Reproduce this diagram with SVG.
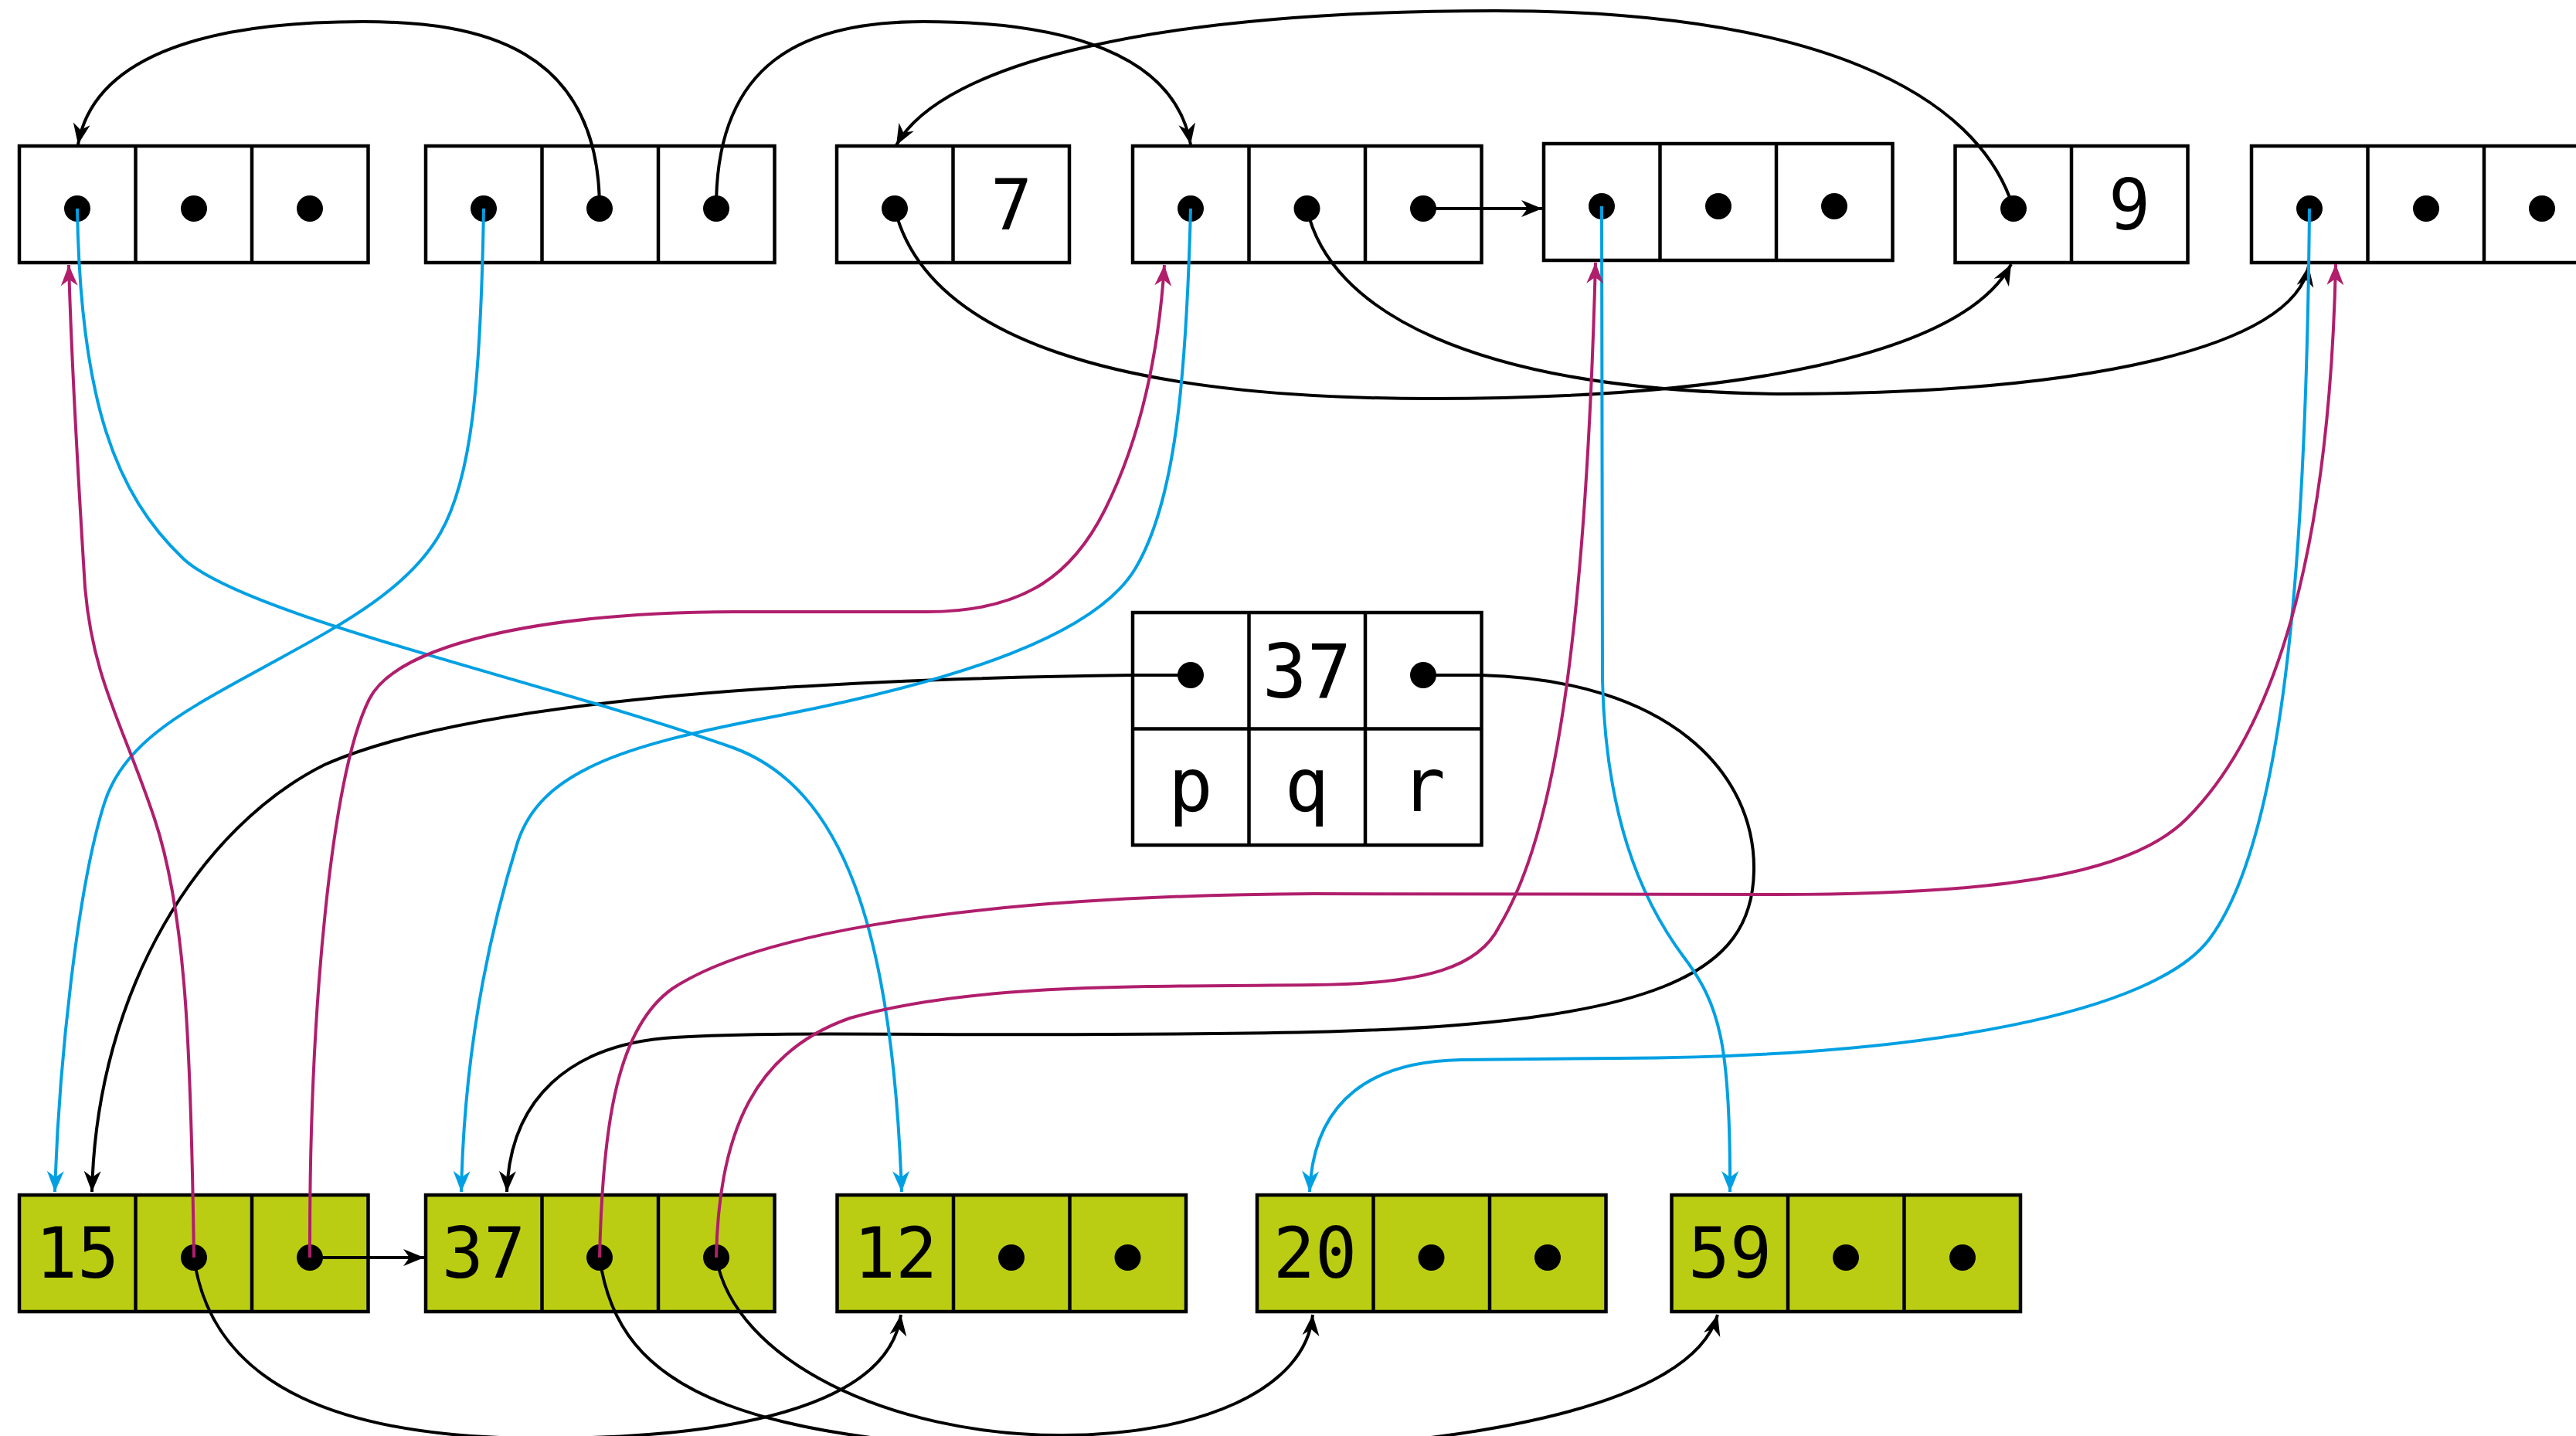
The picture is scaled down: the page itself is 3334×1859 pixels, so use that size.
<svg xmlns="http://www.w3.org/2000/svg" width="3334" height="1859" viewBox="0 0 3334 1859">
  <style>
    .box{fill:#fff;stroke:#000;stroke-width:4.5}
    .leaf{fill:#bacd12;stroke:#000;stroke-width:4.5}
    .sep{stroke:#000;stroke-width:4.5}
    .dot{fill:#000}
    .lbl{font-family:"DejaVu Sans Mono","Liberation Mono",monospace;font-size:90px;text-anchor:middle;fill:#000}
    .big{font-size:96px}
    .e{fill:none;stroke-width:4}
    .k{stroke:#000}
    .b{stroke:#00a0e3}
    .m{stroke:#b01e6c}
  </style>
  <defs>
    <marker id="ak" viewBox="-28 -12 30 24" refX="0" refY="0" markerWidth="30" markerHeight="24" markerUnits="userSpaceOnUse" orient="auto">
      <path d="M0,0 L-27,-11 L-19,0 L-27,11 Z" fill="#000"/>
    </marker>
    <marker id="ab" viewBox="-28 -12 30 24" refX="0" refY="0" markerWidth="30" markerHeight="24" markerUnits="userSpaceOnUse" orient="auto">
      <path d="M0,0 L-27,-11 L-19,0 L-27,11 Z" fill="#00a0e3"/>
    </marker>
    <marker id="am" viewBox="-28 -12 30 24" refX="0" refY="0" markerWidth="30" markerHeight="24" markerUnits="userSpaceOnUse" orient="auto">
      <path d="M0,0 L-27,-11 L-19,0 L-27,11 Z" fill="#b01e6c"/>
    </marker>
  </defs>
  <rect width="3334" height="1859" fill="#fff"/>

  <!-- top row of pointer records -->
  <g id="n1">
    <rect class="box" x="25" y="189" width="451.5" height="151"/>
    <line class="sep" x1="175.5" y1="189" x2="175.5" y2="340"/>
    <line class="sep" x1="326" y1="189" x2="326" y2="340"/>
    <circle class="dot" cx="100" cy="270" r="17"/>
    <circle class="dot" cx="251" cy="270" r="17"/>
    <circle class="dot" cx="401" cy="270" r="17"/>
  </g>
  <g id="n2">
    <rect class="box" x="551" y="189" width="451.5" height="151"/>
    <line class="sep" x1="701.5" y1="189" x2="701.5" y2="340"/>
    <line class="sep" x1="852" y1="189" x2="852" y2="340"/>
    <circle class="dot" cx="626" cy="270" r="17"/>
    <circle class="dot" cx="776" cy="270" r="17"/>
    <circle class="dot" cx="927" cy="270" r="17"/>
  </g>
  <g id="n3">
    <rect class="box" x="1083" y="189" width="301" height="151"/>
    <line class="sep" x1="1233.5" y1="189" x2="1233.5" y2="340"/>
    <circle class="dot" cx="1158" cy="270" r="17"/>
    <text class="lbl" x="1309" y="297">7</text>
  </g>
  <g id="n4">
    <rect class="box" x="1466" y="189" width="451.5" height="151"/>
    <line class="sep" x1="1616.5" y1="189" x2="1616.5" y2="340"/>
    <line class="sep" x1="1767" y1="189" x2="1767" y2="340"/>
    <circle class="dot" cx="1541" cy="270" r="17"/>
    <circle class="dot" cx="1691.5" cy="270" r="17"/>
    <circle class="dot" cx="1842" cy="270" r="17"/>
  </g>
  <g id="n5">
    <rect class="box" x="1998" y="186" width="451.5" height="151"/>
    <line class="sep" x1="2148.5" y1="186" x2="2148.5" y2="337"/>
    <line class="sep" x1="2299" y1="186" x2="2299" y2="337"/>
    <circle class="dot" cx="2073" cy="267" r="17"/>
    <circle class="dot" cx="2224" cy="267" r="17"/>
    <circle class="dot" cx="2374" cy="267" r="17"/>
  </g>
  <g id="n6">
    <rect class="box" x="2530.5" y="189" width="301" height="151"/>
    <line class="sep" x1="2681" y1="189" x2="2681" y2="340"/>
    <circle class="dot" cx="2606" cy="270" r="17"/>
    <text class="lbl" x="2756" y="297">9</text>
  </g>
  <g id="n7">
    <rect class="box" x="2914" y="189" width="451.5" height="151"/>
    <line class="sep" x1="3064.5" y1="189" x2="3064.5" y2="340"/>
    <line class="sep" x1="3215" y1="189" x2="3215" y2="340"/>
    <circle class="dot" cx="2989" cy="270" r="17"/>
    <circle class="dot" cx="3140" cy="270" r="17"/>
    <circle class="dot" cx="3290" cy="270" r="17"/>
  </g>

  <!-- labelled record p / q / r -->
  <g id="pqr">
    <rect class="box" x="1466" y="793" width="451.5" height="301"/>
    <line class="sep" x1="1616.5" y1="793" x2="1616.5" y2="1094"/>
    <line class="sep" x1="1767" y1="793" x2="1767" y2="1094"/>
    <line class="sep" x1="1466" y1="943.5" x2="1917.5" y2="943.5"/>
    <circle class="dot" cx="1541" cy="874" r="17"/>
    <circle class="dot" cx="1842" cy="874" r="17"/>
    <text class="lbl big" x="1691.5" y="903">37</text>
    <text class="lbl big" x="1541" y="1050">p</text>
    <text class="lbl big" x="1691.5" y="1050">q</text>
    <text class="lbl big" x="1842" y="1050">r</text>
  </g>

  <!-- bottom row of keyed records -->
  <g id="k15">
    <rect class="leaf" x="25" y="1547" width="451.5" height="151"/>
    <line class="sep" x1="175.5" y1="1547" x2="175.5" y2="1698"/>
    <line class="sep" x1="326" y1="1547" x2="326" y2="1698"/>
    <text class="lbl" x="100" y="1654">15</text>
    <circle class="dot" cx="251" cy="1628" r="17"/>
    <circle class="dot" cx="401" cy="1628" r="17"/>
  </g>
  <g id="k37">
    <rect class="leaf" x="551" y="1547" width="451.5" height="151"/>
    <line class="sep" x1="701.5" y1="1547" x2="701.5" y2="1698"/>
    <line class="sep" x1="852" y1="1547" x2="852" y2="1698"/>
    <text class="lbl" x="626" y="1654">37</text>
    <circle class="dot" cx="776" cy="1628" r="17"/>
    <circle class="dot" cx="927" cy="1628" r="17"/>
  </g>
  <g id="k12">
    <rect class="leaf" x="1083.5" y="1547" width="451.5" height="151"/>
    <line class="sep" x1="1234" y1="1547" x2="1234" y2="1698"/>
    <line class="sep" x1="1384.5" y1="1547" x2="1384.5" y2="1698"/>
    <text class="lbl" x="1159" y="1654">12</text>
    <circle class="dot" cx="1309" cy="1628" r="17"/>
    <circle class="dot" cx="1459.5" cy="1628" r="17"/>
  </g>
  <g id="k20">
    <rect class="leaf" x="1627" y="1547" width="451.5" height="151"/>
    <line class="sep" x1="1777.5" y1="1547" x2="1777.5" y2="1698"/>
    <line class="sep" x1="1928" y1="1547" x2="1928" y2="1698"/>
    <text class="lbl" x="1702" y="1654">20</text>
    <circle class="dot" cx="1852.5" cy="1628" r="17"/>
    <circle class="dot" cx="2003" cy="1628" r="17"/>
  </g>
  <g id="k59">
    <rect class="leaf" x="2163.5" y="1547" width="451.5" height="151"/>
    <line class="sep" x1="2314" y1="1547" x2="2314" y2="1698"/>
    <line class="sep" x1="2464.5" y1="1547" x2="2464.5" y2="1698"/>
    <text class="lbl" x="2239" y="1654">59</text>
    <circle class="dot" cx="2389" cy="1628" r="17"/>
    <circle class="dot" cx="2540" cy="1628" r="17"/>
  </g>

  <!-- connectors -->
  <g id="edges">
    <!-- black pointers -->
    <path class="e k" marker-end="url(#ak)" d="M776,270 C776,60 620,28 470,28 C250,28 120,80 101,187"/>
    <path class="e k" marker-end="url(#ak)" d="M927,270 C926,80 1040,28 1195,28 C1380,28 1520,70 1541,187"/>
    <path class="e k" marker-end="url(#ak)" d="M2606,270 C2560,120 2350,14 1935,14 C1500,14 1220,80 1160,188"/>
    <path class="e k" marker-end="url(#ak)" d="M1158,270 C1200,440 1450,516 1851,516 C2250,516 2540,460 2603,342"/>
    <path class="e k" marker-end="url(#ak)" d="M1691.5,270 C1720,400 1900,505 2300,510 C2700,510 2970,450 2988,344"/>
    <path class="e k" marker-end="url(#ak)" d="M1842,270 L1996,270"/>
    <path class="e k" marker-end="url(#ak)" d="M1541,874 L1467,874 C1000,880 600,910 420,990 C260,1070 125,1280 119,1543"/>
    <path class="e k" marker-end="url(#ak)" d="M1842,874 L1916,874 C2160,880 2272,1000 2270,1127 C2268,1260 2150,1325 1700,1336 C1300,1345 1000,1332 860,1344 C740,1355 660,1420 656,1543"/>
    <path class="e k" marker-end="url(#ak)" d="M251,1628 C275,1800 450,1862 700,1862 C950,1862 1150,1820 1166,1702"/>
    <path class="e k" marker-end="url(#ak)" d="M776,1628 C800,1800 950,1880 1500,1880 C1900,1880 2190,1820 2223,1702"/>
    <path class="e k" marker-end="url(#ak)" d="M927,1628 C950,1760 1150,1858 1374,1858 C1550,1858 1690,1800 1699,1702"/>
    <path class="e k" marker-end="url(#ak)" d="M401,1628 L549,1628"/>

    <!-- blue: downward links -->
    <path class="e b" marker-end="url(#ab)" d="M100,270 C104,520 150,640 237,723 C315,797 700,880 949,968 C1090,1020 1155,1200 1167,1543"/>
    <path class="e b" marker-end="url(#ab)" d="M626,270 C622,500 610,620 570,690 C525,770 420,820 330,870 C240,920 160,960 135,1040 C100,1150 76,1380 71,1543"/>
    <path class="e b" marker-end="url(#ab)" d="M1541,270 C1535,500 1520,650 1470,735 C1420,820 1250,880 1000,928 C800,966 700,1000 670,1090 C620,1250 600,1400 597,1543"/>
    <path class="e b" marker-end="url(#ab)" d="M2073,267 L2074,880 C2078,1050 2120,1160 2180,1240 C2225,1300 2240,1350 2239,1543"/>
    <path class="e b" marker-end="url(#ab)" d="M2989,270 C2985,700 2960,1080 2860,1215 C2790,1310 2500,1368 2094,1370 L1891,1372 C1780,1374 1700,1420 1695,1543"/>

    <!-- magenta: upward links -->
    <path class="e m" marker-end="url(#am)" d="M251,1628 C247,1350 240,1180 200,1060 C160,940 120,880 110,760 C100,600 92,450 89,343"/>
    <path class="e m" marker-end="url(#am)" d="M401,1628 C400,1300 430,1000 478,905 C514,834 700,793 950,792 L1200,792 C1330,792 1390,740 1430,660 C1480,560 1500,450 1507,343"/>
    <path class="e m" marker-end="url(#am)" d="M776,1628 C780,1450 800,1330 870,1280 C960,1220 1200,1160 1700,1157 L2300,1158 C2600,1158 2760,1130 2830,1060 C2950,940 3015,700 3023,342"/>
    <path class="e m" marker-end="url(#am)" d="M927,1628 C930,1460 980,1360 1100,1318 C1250,1275 1450,1277 1700,1275 C1850,1274 1915,1250 1940,1200 C2000,1100 2050,900 2065,340"/>
  </g>
</svg>
